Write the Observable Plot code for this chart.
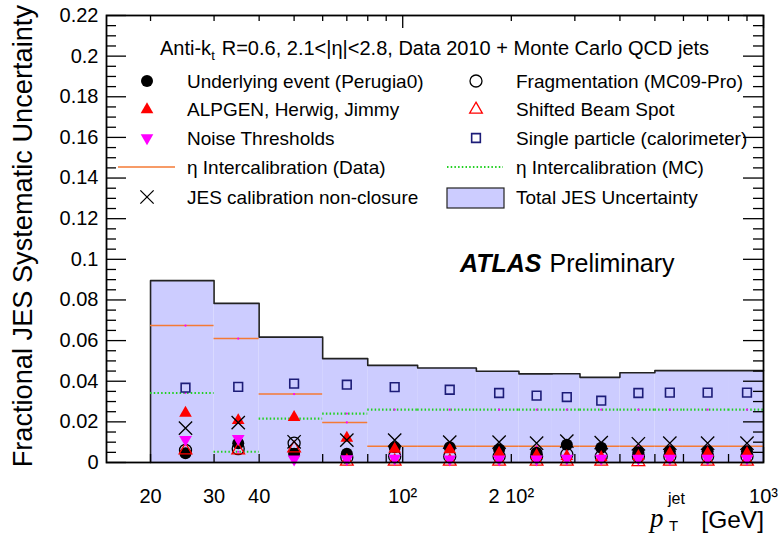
<!DOCTYPE html>
<html><head><meta charset="utf-8">
<script src="https://cdn.jsdelivr.net/npm/d3@7"></script>
<script src="https://cdn.jsdelivr.net/npm/@observablehq/plot@0.6"></script>
<style>body{margin:0;background:#fff}</style>
</head><body><div id="chart"></div>
<script>
// ---- data ----
const binLow  = [20, 30, 40, 60, 80, 110, 160, 210, 260, 310, 400, 500, 600, 800];
const binHigh = [30, 40, 60, 80, 110, 160, 210, 260, 310, 400, 500, 600, 800, 1000];
const binCenter = [25, 35, 50, 70, 95, 135, 185, 235, 285, 355, 450, 550, 700, 900];
const totalJES = [0.0895, 0.0783, 0.0617, 0.0511, 0.0478, 0.0465, 0.0449, 0.0436, 0.0437, 0.0419, 0.0442, 0.0452, 0.0452, 0.0452];
const singleParticle = [0.0368, 0.0372, 0.0388, 0.0383, 0.0371, 0.0358, 0.0342, 0.0329, 0.0322, 0.0304, 0.0342, 0.0344, 0.0344, 0.0344];
const etaInterData = [0.0674, 0.0610, 0.0337, 0.0197, 0.0080, 0.0080, 0.0080, 0.0080, 0.0080, 0.0080, 0.0080, 0.0080, 0.0080, 0.0080];
const etaInterMC   = [0.0342, 0.0053, 0.0216, 0.0241, 0.0260, 0.0260, 0.0260, 0.0260, 0.0260, 0.0260, 0.0260, 0.0260, 0.0260, 0.0260];
const underlyingEvent = [0.0045, 0.0095, 0.0043, 0.0043, 0.0075, 0.0075, 0.0064, 0.0048, 0.0087, 0.0073, 0.0050, 0.0055, 0.0055, 0.0055];
const fragmentation   = [0.0060, 0.0068, 0.0095, 0.0025, 0.0030, 0.0030, 0.0030, 0.0030, 0.0040, 0.0030, 0.0030, 0.0030, 0.0030, 0.0030];
const alpgenHerwig    = [0.0243, 0.0207, 0.0222, 0.0120, 0.0066, 0.0064, 0.0046, 0.0035, 0.0030, 0.0025, 0.0030, 0.0045, 0.0045, 0.0045];
const beamSpot        = [0.0060, 0.0060, 0.0070, 0.0005, 0.0005, 0.0005, 0.0005, 0.0005, 0.0005, 0.0005, 0.0003, 0.0005, 0.0005, 0.0005];
const noiseThresholds = [0.0113, 0.0117, 0.0016, 0.0018, 0.0020, 0.0016, 0.0016, 0.0016, 0.0020, 0.0020, 0.0020, 0.0020, 0.0020, 0.0020];
const nonClosure      = [0.0169, 0.0196, 0.0102, 0.0110, 0.0110, 0.0100, 0.0100, 0.0095, 0.0105, 0.0098, 0.0092, 0.0095, 0.0095, 0.0095];

const yMajorTicks = [0, 0.02, 0.04, 0.06, 0.08, 0.1, 0.12, 0.14, 0.16, 0.18, 0.2, 0.22];
const yTickLabels = ["0", "0.02", "0.04", "0.06", "0.08", "0.1", "0.12", "0.14", "0.16", "0.18", "0.2", "0.22"];
const xMajorTicks = [100, 1000];
const xMinorTicks = [20, 30, 40, 50, 60, 70, 80, 90, 200, 300, 400, 500, 600, 700, 800, 900];
const xLabelTicks = [20, 30, 40, 100, 200, 1000];
const xTickLabels = ["20", "30", "40", "10²", "2 10²", "10³"];

const headerText = "R=0.6, 2.1<|η|<2.8, Data 2010 + Monte Carlo QCD jets";
const legendLeft = ["Underlying event (Perugia0)", "ALPGEN, Herwig, Jimmy", "Noise Thresholds", "η Intercalibration (Data)", "JES calibration non-closure"];
const legendRight = ["Fragmentation (MC09-Pro)", "Shifted Beam Spot", "Single particle (calorimeter)", "η Intercalibration (MC)", "Total JES Uncertainty"];

// ---- styles ----
const C = {band: "#ccccff", bandLine: "#222222", orange: "#f47a35", green: "#22d022", navy: "#1c1c78", red: "#ff0000", magenta: "#ff00ff"};
const W = 782, H = 533, mL = 106, mR = 19, mT = 15, mB = 71;
const fw = W - mL - mR, fh = H - mT - mB;
const FONT = "'Liberation Sans', Arial, Helvetica, sans-serif";

const bins = binLow.map((lo, i) => ({lo, hi: binHigh[i], pt: binCenter[i], total: totalJES[i], single: singleParticle[i],
  etaD: etaInterData[i], etaM: etaInterMC[i], ue: underlyingEvent[i], frag: fragmentation[i], alp: alpgenHerwig[i],
  beam: beamSpot[i], noise: noiseThresholds[i], nc: nonClosure[i]}));

const stepPts = [{x: binLow[0], y: 0}];
bins.forEach(b => { stepPts.push({x: b.lo, y: b.total}, {x: b.hi, y: b.total}); });

const yMinorTicks = d3.range(0, 0.2201, 0.005).filter(v => !yMajorTicks.some(m => Math.abs(m - v) < 1e-6));

// symbol sizes (Plot r)
const rCircle = 6, rTri = 4.7, rSq = 4.9, rX = 6.1;

function overlay() {
  const g = d3.create("svg:g").attr("font-family", FONT).attr("fill", "black").attr("text-anchor", "start");
  // header
  const h = g.append("text").attr("x", 160).attr("y", 55).attr("font-size", 20);
  h.append("tspan").text("Anti-k");
  h.append("tspan").attr("font-size", 13).attr("dy", 5).text("t");
  h.append("tspan").attr("font-size", 20).attr("dy", -5).attr("dx", 7).text(headerText);
  const rows = [81, 109.5, 138, 167, 197];
  const symL = 147, txtL = 187, symR = 476, txtR = 516;
  legendLeft.forEach((t, i) => g.append("text").attr("x", txtL).attr("y", rows[i] + 6.8).attr("font-size", 19).text(t));
  legendRight.forEach((t, i) => g.append("text").attr("x", txtR).attr("y", rows[i] + 6.8).attr("font-size", 19).text(t));
  const sym = (type, r) => d3.symbol(type, Math.PI * r * r)();
  // left symbols
  g.append("circle").attr("cx", symL).attr("cy", rows[0]).attr("r", rCircle).attr("fill", "black");
  g.append("path").attr("d", sym(d3.symbolTriangle, rTri)).attr("transform", `translate(${symL},${rows[1]})`).attr("fill", C.red);
  g.append("path").attr("d", sym(d3.symbolTriangle, rTri)).attr("transform", `translate(${symL},${rows[2]}) rotate(180)`).attr("fill", C.magenta);
  g.append("line").attr("x1", 118).attr("x2", 175).attr("y1", rows[3]).attr("y2", rows[3]).attr("stroke", C.orange).attr("stroke-width", 1.5);
  g.append("path").attr("d", sym(d3.symbolTimes, rX)).attr("transform", `translate(${symL},${rows[4]})`).attr("fill", "none").attr("stroke", "black").attr("stroke-width", 1.3);
  // right symbols
  g.append("circle").attr("cx", symR).attr("cy", rows[0]).attr("r", rCircle).attr("fill", "none").attr("stroke", "black").attr("stroke-width", 1.3);
  g.append("path").attr("d", sym(d3.symbolTriangle, rTri)).attr("transform", `translate(${symR},${rows[1]})`).attr("fill", "none").attr("stroke", C.red).attr("stroke-width", 1.3);
  g.append("path").attr("d", sym(d3.symbolSquare, rSq)).attr("transform", `translate(${symR},${rows[2]})`).attr("fill", "none").attr("stroke", C.navy).attr("stroke-width", 1.6);
  g.append("line").attr("x1", 447).attr("x2", 503).attr("y1", rows[3]).attr("y2", rows[3]).attr("stroke", C.green).attr("stroke-width", 2).attr("stroke-dasharray", "1.5,2.2");
  g.append("rect").attr("x", 447).attr("y", 188).attr("width", 57).attr("height", 20).attr("fill", C.band).attr("stroke", C.bandLine).attr("stroke-width", 1.2);
  // ATLAS Preliminary
  const a = g.append("text").attr("x", 460).attr("y", 272).attr("font-size", 25);
  a.append("tspan").attr("font-weight", "bold").attr("font-style", "italic").text("ATLAS");
  a.append("tspan").attr("dx", 8).text("Preliminary");
  // x label
  g.append("text").attr("x", 650).attr("y", 527).attr("font-size", 27).attr("font-style", "italic").attr("font-family", "'Liberation Serif', 'Times New Roman', serif").text("p");
  g.append("text").attr("x", 668).attr("y", 504).attr("font-size", 16).text("jet");
  g.append("text").attr("x", 669).attr("y", 531).attr("font-size", 15).text("T");
  g.append("text").attr("x", 764).attr("y", 528).attr("font-size", 24.5).attr("text-anchor", "end").text("[GeV]");
  // y label
  g.append("text").attr("transform", "translate(32,5) rotate(-90)").attr("text-anchor", "end").attr("font-size", 27.2).text("Fractional JES Systematic Uncertainty");
  return g.node();
}

const chart = Plot.plot({
  width: W, height: H,
  marginLeft: mL, marginRight: mR, marginTop: mT, marginBottom: mB,
  style: {fontFamily: FONT, fontSize: "20px", color: "black", background: "white"},
  x: {type: "log", domain: [15.1, 1000]},
  y: {domain: [0, 0.22]},
  marks: [
    Plot.rect(bins, {x1: "lo", x2: "hi", y1: 0, y2: "total", fill: C.band}),
    Plot.line(stepPts, {x: "x", y: "y", stroke: C.bandLine, strokeWidth: 1.6, curve: "linear"}),
    Plot.ruleY(bins, {x1: "lo", x2: "hi", y: "etaD", stroke: C.orange, strokeWidth: 1.5}),
    Plot.ruleY(bins, {x1: "lo", x2: "hi", y: "etaM", stroke: C.green, strokeWidth: 2.2, strokeDasharray: "1.5,2.2"}),
    Plot.dot(bins, {x: "pt", y: "etaD", r: 1.1, fill: C.magenta}),
    Plot.dot(bins, {x: "pt", y: "etaM", r: 1.1, fill: C.magenta}),
    // ticks
    Plot.ruleY(yMajorTicks, {insetRight: fw - 20, stroke: "black", strokeWidth: 1.3}),
    Plot.ruleY(yMinorTicks, {insetRight: fw - 10, stroke: "black", strokeWidth: 1.3}),
    Plot.ruleY(yMajorTicks, {insetLeft: fw - 20, stroke: "black", strokeWidth: 1.3}),
    Plot.ruleY(yMinorTicks, {insetLeft: fw - 10, stroke: "black", strokeWidth: 1.3}),
    Plot.ruleX(xMajorTicks, {insetTop: fh - 15, stroke: "black", strokeWidth: 1.3}),
    Plot.ruleX(xMinorTicks, {insetTop: fh - 8, stroke: "black", strokeWidth: 1.3}),
    Plot.ruleX(xMajorTicks, {insetBottom: fh - 13, stroke: "black", strokeWidth: 1.3}),
    Plot.ruleX(xMinorTicks, {insetBottom: fh - 6, stroke: "black", strokeWidth: 1.3}),
    // markers
    Plot.dot(bins, {x: "pt", y: "ue", r: rCircle, fill: "black", symbol: "circle"}),
    Plot.dot(bins, {x: "pt", y: "frag", r: rCircle, stroke: "black", strokeWidth: 1.3, fill: "none", symbol: "circle"}),
    Plot.dot(bins, {x: "pt", y: "alp", r: rTri, fill: C.red, symbol: "triangle"}),
    Plot.dot(bins, {x: "pt", y: "beam", r: rTri, stroke: C.red, strokeWidth: 1.3, fill: "none", symbol: "triangle"}),
    Plot.dot(bins, {x: "pt", y: "noise", r: rTri, fill: C.magenta, symbol: "triangle", rotate: 180}),
    Plot.dot(bins, {x: "pt", y: "single", r: rSq, stroke: C.navy, strokeWidth: 1.6, fill: "none", symbol: "square"}),
    Plot.dot(bins, {x: "pt", y: "nc", r: rX, stroke: "black", strokeWidth: 1.3, symbol: "times"}),
    Plot.frame({stroke: "black", strokeWidth: 1.8}),
    Plot.axisY(yMajorTicks, {tickSize: 0, tickPadding: 8, fontSize: 20, label: null, tickFormat: d => yTickLabels[yMajorTicks.indexOf(d)]}),
    Plot.axisX(xLabelTicks, {tickSize: 0, tickPadding: 26, fontSize: 20, label: null, tickFormat: d => xTickLabels[xLabelTicks.indexOf(d)]}),
    overlay
  ]
});
document.getElementById("chart").appendChild(chart);
</script>
</body></html>
